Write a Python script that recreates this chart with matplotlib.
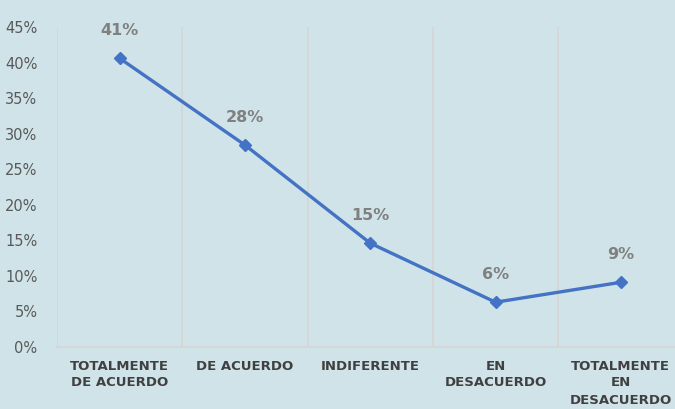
import matplotlib.pyplot as plt
from matplotlib.ticker import PercentFormatter

# categories and values
categories = ['TOTALMENTE\nDE ACUERDO', 'DE ACUERDO', 'INDIFERENTE',
              'EN\nDESACUERDO', 'TOTALMENTE\nEN\nDESACUERDO']
values = [40.6, 28.4, 14.6, 6.3, 9.1]
labels = ['41%', '28%', '15%', '6%', '9%']

bg = '#cfe3e8'
fig = plt.figure(figsize=(6.75, 4.09), dpi=100, facecolor=bg)
ax = fig.add_axes([57 / 675, 62 / 409, 626.5 / 675, 320 / 409], facecolor=bg)

x = range(len(categories))
ax.plot(x, values, color='#4472c4', linewidth=2.4, marker='D', markersize=6.5)

for i, (v, lab) in enumerate(zip(values, labels)):
    ax.annotate(lab, (i, v), xytext=(0, 20), textcoords='offset points',
                ha='center', va='center', fontsize=11.5, fontweight='bold',
                color='#808080')

ax.set_xlim(-0.5, len(categories) - 0.5)
ax.set_ylim(0, 45)
ax.set_yticks(range(0, 46, 5))
ax.yaxis.set_major_formatter(PercentFormatter(decimals=0))

# vertical gridlines between categories
for b in [k + 0.5 for k in range(-1, len(categories))]:
    ax.axvline(b, color='#d6d6d6', linewidth=1.3, zorder=0)

ax.set_xticks(list(x))
ax.set_xticklabels(categories, fontsize=9.5, fontweight='bold', color='#404040',
                   linespacing=1.4, va='top')
ax.tick_params(axis='x', length=0, pad=9)
ax.tick_params(axis='y', length=0, pad=14, labelsize=10.5, labelcolor='#595959')

for s in ['top', 'right', 'left']:
    ax.spines[s].set_visible(False)
ax.spines['bottom'].set_color('#d6d6d6')
ax.spines['bottom'].set_linewidth(1.4)

fig.savefig('out.png', dpi=100, facecolor=bg)
